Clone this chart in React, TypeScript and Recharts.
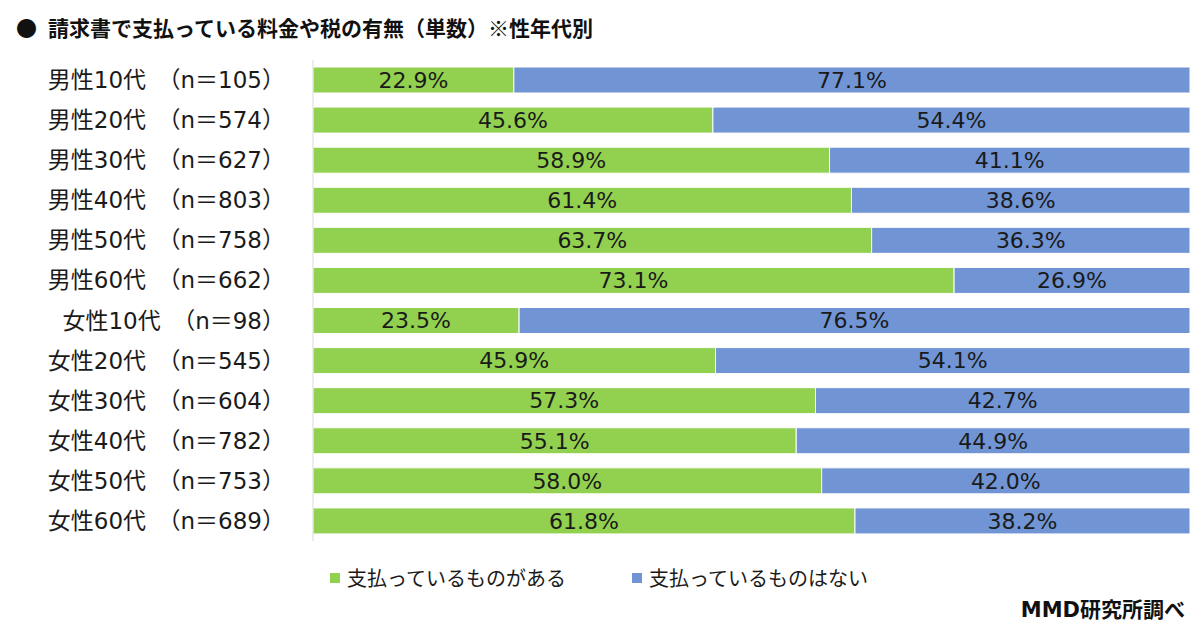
import React from 'react';
import { BarChart, Bar, XAxis, YAxis, LabelList } from 'recharts';

const categories = [
  '男性10代　（n＝105）',
  '男性20代　（n＝574）',
  '男性30代　（n＝627）',
  '男性40代　（n＝803）',
  '男性50代　（n＝758）',
  '男性60代　（n＝662）',
  '女性10代　（n＝98）',
  '女性20代　（n＝545）',
  '女性30代　（n＝604）',
  '女性40代　（n＝782）',
  '女性50代　（n＝753）',
  '女性60代　（n＝689）',
];
const paying = [22.9, 45.6, 58.9, 61.4, 63.7, 73.1, 23.5, 45.9, 57.3, 55.1, 58.0, 61.8];
const notPaying = [77.1, 54.4, 41.1, 38.6, 36.3, 26.9, 76.5, 54.1, 42.7, 44.9, 42.0, 38.2];
const seriesNames = ['支払っているものがある', '支払っているものはない'];
const colors = ['#92D050', '#7094D4'];
const title = '請求書で支払っている料金や税の有無（単数）※性年代別';
const source = 'MMD研究所調べ';

const data = categories.map((c, i) => ({ name: c, a: paying[i], b: notPaying[i] }));

const FONT = '"Noto Sans CJK JP", "Noto Sans", sans-serif';
const MIXED = '"DejaVu Sans", "Noto Sans CJK JP", sans-serif';

const YTick = (props: any) => {
  const { x, y, payload } = props;
  return (
    <text x={x - 20} y={y} dy={8} textAnchor="end" fontSize={23} fill="#1a1a1a" fontFamily={MIXED}>
      {payload.value}
    </text>
  );
};

const fmt = (v: any) => `${Number(v).toFixed(1)}%`;

export default function App() {
  return (
    <div style={{ position: 'absolute', left: 0, top: 0, width: 1200, height: 638, background: '#fff', fontFamily: FONT }}>
      <div style={{ position: 'absolute', left: 16, top: 12, fontSize: 21, fontWeight: 700, color: '#111', whiteSpace: 'nowrap', lineHeight: '30px' }}>
        <span style={{ marginRight: 11 }}>●</span>{title}
      </div>
      <BarChart
        width={1200}
        height={638}
        data={data}
        layout="vertical"
        margin={{ top: 60, right: 10, left: 0, bottom: 97 }}
        barSize={26}
      >
        <XAxis type="number" domain={[0, 100]} hide />
        <YAxis
          type="category"
          dataKey="name"
          width={313}
          tick={<YTick />}
          tickLine={false}
          axisLine={{ stroke: '#d9d9d9' }}
          interval={0}
        />
        <Bar dataKey="a" stackId="s" fill={colors[0]} stroke="#fff" strokeWidth={1} isAnimationActive={false} name={seriesNames[0]}>
          <LabelList dataKey="a" position="center" formatter={fmt} fontSize={22} fill="#1a1a1a" fontFamily={MIXED} />
        </Bar>
        <Bar dataKey="b" stackId="s" fill={colors[1]} stroke="#fff" strokeWidth={1} isAnimationActive={false} name={seriesNames[1]}>
          <LabelList dataKey="b" position="center" formatter={fmt} fontSize={22} fill="#1a1a1a" fontFamily={MIXED} />
        </Bar>
      </BarChart>
      <div style={{ position: 'absolute', left: 330, top: 563, width: 700, height: 30, fontSize: 20, color: '#1a1a1a' }}>
        {seriesNames.map((n, i) => (
          <div key={n} style={{ position: 'absolute', left: i === 0 ? 0 : 302, top: 0, display: 'flex', alignItems: 'center', whiteSpace: 'nowrap' }}>
            <span style={{ display: 'inline-block', width: 10, height: 10, background: colors[i], marginRight: 7 }} />
            <span>{n}</span>
          </div>
        ))}
      </div>
      <div style={{ position: 'absolute', right: 15, top: 596, fontSize: 21, fontWeight: 700, color: '#111', fontFamily: MIXED, lineHeight: '28px' }}>{source}</div>
    </div>
  );
}
